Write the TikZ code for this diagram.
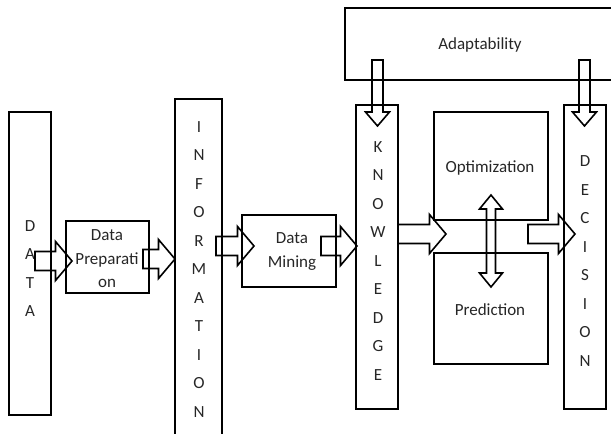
\documentclass[tikz,border=0pt]{standalone}
\usepackage{fontspec}
\setmainfont{Carlito}
\usetikzlibrary{calc}

% hollow block-arrow dimensions
\def\sw{9.5pt}  % half shaft width
\def\hw{19.5pt} % half head width
\def\hl{16.5pt} % head length
\def\vsw{5.5pt}
\def\vhw{12pt}
\def\vhl{14pt}

% rightward block arrow from tail #1 to tip #2
\newcommand{\rightblock}[2]{%
  \draw[blockline] let \p1=(#1), \p2=(#2) in
    (\x1,{\y1+\sw}) -- ({\x2-\hl},{\y1+\sw}) -- ({\x2-\hl},{\y1+\hw}) -- (\x2,\y1)
    -- ({\x2-\hl},{\y1-\hw}) -- ({\x2-\hl},{\y1-\sw}) -- (\x1,{\y1-\sw}) -- cycle;}

% downward block arrow from tail #1 to tip #2
\newcommand{\downblock}[2]{%
  \draw[blockline] let \p1=(#1), \p2=(#2) in
    ({\x1-\vsw},\y1) -- ({\x1-\vsw},{\y2+\vhl}) -- ({\x1-\vhw},{\y2+\vhl}) -- (\x1,\y2)
    -- ({\x1+\vhw},{\y2+\vhl}) -- ({\x1+\vsw},{\y2+\vhl}) -- ({\x1+\vsw},\y1) -- cycle;}

% vertical double block arrow between tips #1 (top) and #2 (bottom)
\newcommand{\updownblock}[2]{%
  \draw[blockline] let \p1=(#1), \p2=(#2) in
    (\x1,\y1) -- ({\x1+\vhw-0.5pt},{\y1-\vhl}) -- ({\x1+4.5pt},{\y1-\vhl})
    -- ({\x1+4.5pt},{\y2+\vhl}) -- ({\x1+\vhw-0.5pt},{\y2+\vhl}) -- (\x2,\y2)
    -- ({\x1-\vhw+0.5pt},{\y2+\vhl}) -- ({\x1-4.5pt},{\y2+\vhl})
    -- ({\x1-4.5pt},{\y1-\vhl}) -- ({\x1-\vhw+0.5pt},{\y1-\vhl}) -- cycle;}

\tikzset{
  box/.style={draw, line width=1.6pt, inner sep=0pt, rectangle},
  blockline/.style={draw, line width=1.6pt, line join=miter},
  stack/.style={align=center, inner sep=0pt, text=black!85,
    font=\fontsize{17}{28.5}\selectfont},
  label/.style={align=center, inner sep=0pt, text=black!85,
    font=\fontsize{17}{23.5}\selectfont},
}

\begin{document}
\begin{tikzpicture}[x=1pt, y=-1pt]
  \useasboundingbox (0,0) rectangle (611,434);
  \clip (0,0) rectangle (611,434);

  % columns and boxes
  \node[box, minimum width=42, minimum height=303] (data) at (30,263.5) {};
  \node[box, minimum width=83, minimum height=72]  (prep) at (107.5,257) {};
  \node[box, minimum width=47, minimum height=345] (info) at (198.5,271.5) {};
  \node[box, minimum width=94, minimum height=72]  (mining) at (289,251) {};
  \node[box, minimum width=42, minimum height=304] (know) at (377,257) {};
  \node[box, minimum width=290, minimum height=72] (adapt) at (490,44) {};
  \node[box, minimum width=114, minimum height=108] (opt) at (491,166) {};
  \node[box, minimum width=114, minimum height=111] (pred) at (491,308.5) {};
  \node[box, minimum width=42, minimum height=304] (dec) at (585,257) {};

  % texts
  \node[stack] (datatxt) at (30,268.5) {D\\A\\T\\A};
  \node[stack] (infotxt) at (199,269.5) {I\\N\\F\\O\\R\\M\\A\\T\\I\\O\\N};
  \node[stack] (knowtxt) at (378,261) {K\\N\\O\\W\\L\\E\\D\\G\\E};
  \node[stack] (dectxt)  at (585,261) {D\\E\\C\\I\\S\\I\\O\\N};
  \node[label] (preptxt) at (107,259) {Data\\Preparati\\on};
  \node[label] (minetxt) at (292,251.5) {Data\\Mining};
  \node[label] (adapttxt) at (480,45) {Adaptability};
  \node[label] (opttxt) at (490,168) {Optimization};
  \node[label] (predtxt) at (490,310) {Prediction};

  % arrow end points
  \coordinate (a1t) at (35,261);  \coordinate (a1h) at (72,261);
  \coordinate (a2t) at (143,259); \coordinate (a2h) at (175,259);
  \coordinate (a3t) at (216,246); \coordinate (a3h) at (254,246);
  \coordinate (a4t) at (321,246); \coordinate (a4h) at (357,246);
  \coordinate (a5t) at (398,234); \coordinate (a5h) at (446,234);
  \coordinate (a6t) at (528,234); \coordinate (a6h) at (575,234);
  \coordinate (d1t) at (377.5,60); \coordinate (d1h) at (377.5,126);
  \coordinate (d2t) at (584.5,60); \coordinate (d2h) at (584.5,126);
  \coordinate (optend)  at (491,195);
  \coordinate (predend) at (491,287);

  % connectors
  \rightblock{a1t}{a1h}
  \rightblock{a2t}{a2h}
  \rightblock{a3t}{a3h}
  \rightblock{a4t}{a4h}
  \rightblock{a5t}{a5h}
  \rightblock{a6t}{a6h}
  \downblock{d1t}{d1h}
  \downblock{d2t}{d2h}
  \updownblock{optend}{predend}
\end{tikzpicture}
\end{document}
